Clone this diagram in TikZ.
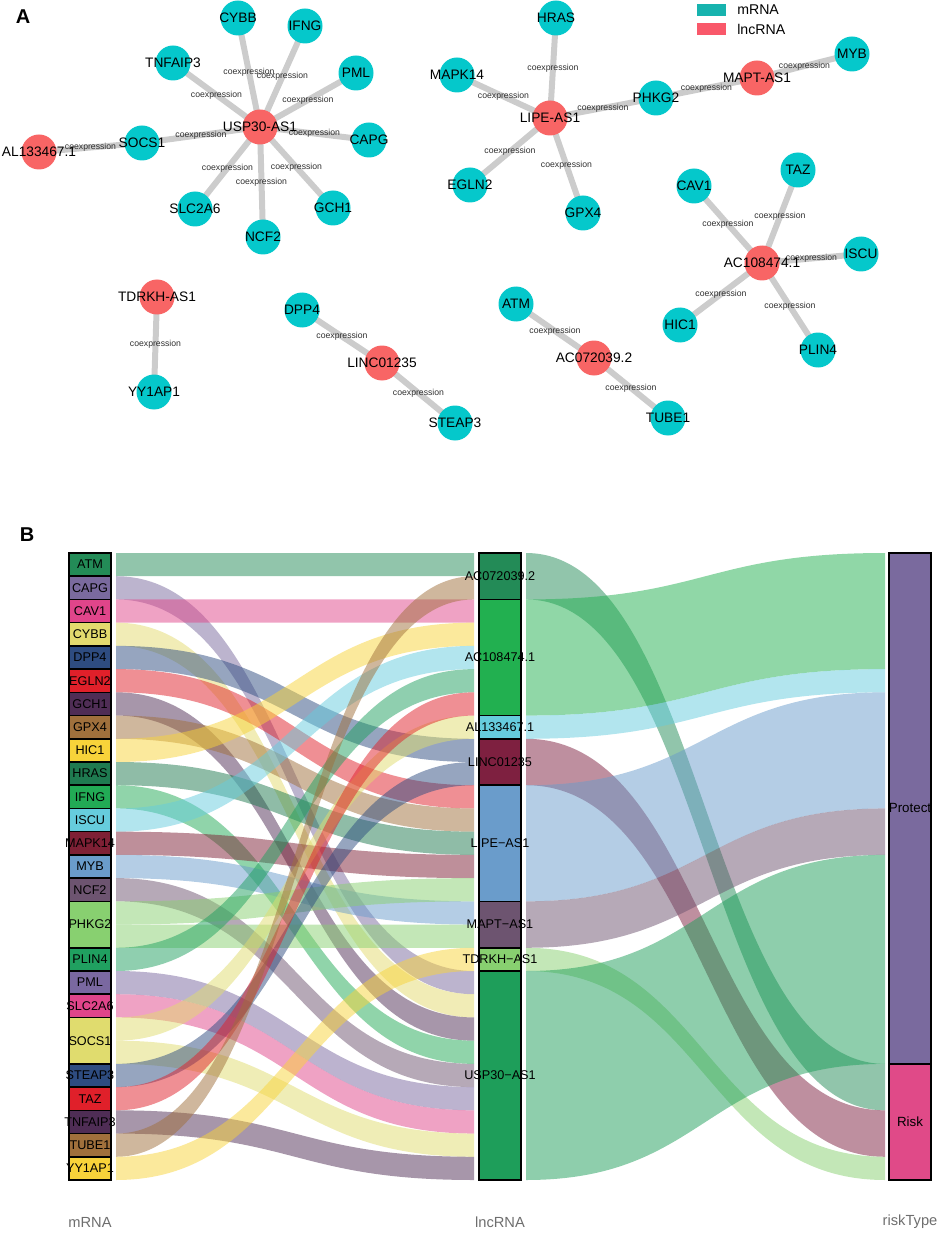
\documentclass[tikz,border=0pt]{standalone}
\usepackage{fontspec}
\setmainfont{Liberation Sans}
\usetikzlibrary{backgrounds}
\definecolor{mcol}{HTML}{05C8CB}
\definecolor{lcol}{HTML}{F86565}
\definecolor{legm}{HTML}{17B3AE}
\definecolor{legl}{HTML}{F9586A}
\definecolor{edgegray}{HTML}{CCCCCC}
\definecolor{labgray}{HTML}{303030}
\definecolor{axgray}{HTML}{6E6E6E}
% mRNA colours
\definecolor{cATM}{HTML}{238B57}
\definecolor{cCAPG}{HTML}{7A6A9E}
\definecolor{cCAV1}{HTML}{E0458A}
\definecolor{cCYBB}{HTML}{E3DA6E}
\definecolor{cDPP4}{HTML}{2E4C80}
\definecolor{cEGLN2}{HTML}{E0202A}
\definecolor{cGCH1}{HTML}{4F2D55}
\definecolor{cGPX4}{HTML}{A0703C}
\definecolor{cHIC1}{HTML}{F8D33A}
\definecolor{cHRAS}{HTML}{1F7A50}
\definecolor{cIFNG}{HTML}{22AA55}
\definecolor{cISCU}{HTML}{66CCDD}
\definecolor{cMAPK14}{HTML}{7E2035}
\definecolor{cMYB}{HTML}{6A9CCB}
\definecolor{cNCF2}{HTML}{6D5470}
\definecolor{cPHKG2}{HTML}{88D070}
\definecolor{cPLIN4}{HTML}{20A060}
\definecolor{cPML}{HTML}{7A68A0}
\definecolor{cSLC2A6}{HTML}{E0458A}
\definecolor{cSOCS1}{HTML}{E0DC6E}
\definecolor{cSTEAP3}{HTML}{2E4C80}
\definecolor{cTAZ}{HTML}{E0202A}
\definecolor{cTNFAIP3}{HTML}{4F2D55}
\definecolor{cTUBE1}{HTML}{A0703C}
\definecolor{cYY1AP1}{HTML}{F8D33A}
% lncRNA colours
\definecolor{cAC07}{HTML}{238B57}
\definecolor{cAC10}{HTML}{22B050}
\definecolor{cAL13}{HTML}{66CCDD}
\definecolor{cLINC}{HTML}{7E2040}
\definecolor{cLIPE}{HTML}{6A9CCB}
\definecolor{cMAPT}{HTML}{6D5470}
\definecolor{cTDRKH}{HTML}{88D070}
\definecolor{cUSP}{HTML}{1E9E5A}
\definecolor{cProt}{HTML}{7A6A9E}
\definecolor{cRisk}{HTML}{E04A88}
\begin{document}
\begin{tikzpicture}[x=0.75pt,y=-0.75pt,
  cxedge/.style={draw=edgegray, line width=4.5pt},
  elab/.style={font=\fontsize{6.5}{7}\selectfont, text=labgray, inner sep=0pt},
  mnode/.style={circle, fill=mcol, minimum size=26.25pt, inner sep=0pt},
  lnode/.style={circle, fill=lcol, minimum size=26.25pt, inner sep=0pt},
  nlab/.style={font=\fontsize{10.3}{12}\selectfont, inner sep=0pt},
  stratbox/.style={draw=black, line width=1.2pt},
  blab/.style={font=\fontsize{9.5}{11}\selectfont, inner sep=0pt},
  axlab/.style={font=\fontsize{11}{13}\selectfont, text=axgray, inner sep=0pt},
  panel/.style={font=\fontsize{15}{17}\selectfont\bfseries, inner sep=0pt}]
\useasboundingbox (0,0) rectangle (941,1237);

% ---------------- Panel A ----------------
\node[panel] (pA) at (23,17) {A};
\coordinate (USP) at (260,127);
\coordinate (CYBB) at (238,18);
\coordinate (IFNG) at (305,26);
\coordinate (TNFAIP3) at (173,63);
\coordinate (PML) at (356,73);
\coordinate (CAPG) at (369,140);
\coordinate (SOCS1) at (142,143);
\coordinate (AL13) at (39,152);
\coordinate (SLC2A6) at (195,209);
\coordinate (NCF2) at (263,237);
\coordinate (GCH1) at (333,208);
\coordinate (LIPE) at (550,118);
\coordinate (HRAS) at (556,18);
\coordinate (MAPK14) at (457,75);
\coordinate (EGLN2) at (470,185);
\coordinate (GPX4) at (583,213);
\coordinate (PHKG2) at (656,98);
\coordinate (MAPT) at (757,78);
\coordinate (MYB) at (852,54);
\coordinate (AC10) at (762,263);
\coordinate (CAV1) at (694,186);
\coordinate (TAZ) at (798,170);
\coordinate (ISCU) at (861,254);
\coordinate (HIC1) at (680,325);
\coordinate (PLIN4) at (818,350);
\coordinate (TDRKH) at (157,297);
\coordinate (YY1AP1) at (154,392);
\coordinate (DPP4) at (302,310);
\coordinate (LINC) at (382,363);
\coordinate (STEAP3) at (455,423);
\coordinate (ATM) at (516,304);
\coordinate (AC07) at (594,358);
\coordinate (TUBE1) at (668,418);

\foreach \a/\b in {USP/CYBB, USP/IFNG, USP/TNFAIP3, USP/PML, USP/CAPG, USP/SOCS1, SOCS1/AL13, USP/SLC2A6, USP/NCF2, USP/GCH1,
  LIPE/HRAS, LIPE/MAPK14, LIPE/EGLN2, LIPE/GPX4, LIPE/PHKG2, PHKG2/MAPT, MAPT/MYB,
  AC10/CAV1, AC10/TAZ, AC10/ISCU, AC10/HIC1, AC10/PLIN4, TDRKH/YY1AP1, DPP4/LINC, LINC/STEAP3, ATM/AC07, AC07/TUBE1}
  \draw[cxedge] (\a) -- (\b) node[midway, elab] {coexpression};

\foreach \k/\t in {CYBB/CYBB, IFNG/IFNG, TNFAIP3/TNFAIP3, PML/PML, CAPG/CAPG, SOCS1/SOCS1, SLC2A6/SLC2A6, NCF2/NCF2, GCH1/GCH1,
  HRAS/HRAS, MAPK14/MAPK14, EGLN2/EGLN2, GPX4/GPX4, PHKG2/PHKG2, MYB/MYB, CAV1/CAV1, TAZ/TAZ, ISCU/ISCU, HIC1/HIC1, PLIN4/PLIN4,
  YY1AP1/YY1AP1, DPP4/DPP4, STEAP3/STEAP3, ATM/ATM, TUBE1/TUBE1}
  \node[mnode] (n\k) at (\k) {};
\foreach \k/\t in {USP/USP30-AS1, AL13/AL133467.1, LIPE/LIPE-AS1, MAPT/MAPT-AS1, AC10/AC108474.1, TDRKH/TDRKH-AS1, LINC/LINC01235, AC07/AC072039.2}
  \node[lnode] (n\k) at (\k) {};
\foreach \k/\t in {CYBB/CYBB, IFNG/IFNG, TNFAIP3/TNFAIP3, PML/PML, CAPG/CAPG, SOCS1/SOCS1, SLC2A6/SLC2A6, NCF2/NCF2, GCH1/GCH1,
  HRAS/HRAS, MAPK14/MAPK14, EGLN2/EGLN2, GPX4/GPX4, PHKG2/PHKG2, MYB/MYB, CAV1/CAV1, TAZ/TAZ, ISCU/ISCU, HIC1/HIC1, PLIN4/PLIN4,
  YY1AP1/YY1AP1, DPP4/DPP4, STEAP3/STEAP3, ATM/ATM, TUBE1/TUBE1,
  USP/USP30-AS1, AL13/AL133467.1, LIPE/LIPE-AS1, MAPT/MAPT-AS1, AC10/AC108474.1, TDRKH/TDRKH-AS1, LINC/LINC01235, AC07/AC072039.2}
  \node[nlab] (t\k) at (\k) {\t};

% legend
\fill[legm] (697,4) rectangle (726,16);
\fill[legl] (697,23) rectangle (726,35);
\node[nlab, anchor=west, font=\fontsize{10.6}{12}\selectfont] (legmt) at (737,10) {mRNA};
\node[nlab, anchor=west, font=\fontsize{10.6}{12}\selectfont] (leglt) at (737,29) {lncRNA};

% ---------------- Panel B ----------------
\node[panel] (pB) at (27,535) {B};
\def\U{23.222}
% left flows
\foreach \l/\m/\c in {0/0/cATM, 1/18/cCAPG, 2/2/cCAV1, 3/19/cCYBB, 4/8/cDPP4, 5/10/cEGLN2, 6/20/cGCH1, 7/11/cGPX4, 8/3/cHIC1, 9/12/cHRAS, 10/21/cIFNG, 11/4/cISCU, 12/13/cMAPK14, 13/15/cMYB, 14/22/cNCF2, 15/14/cPHKG2, 16/16/cPHKG2, 17/5/cPLIN4, 18/23/cPML, 19/24/cSLC2A6, 20/7/cSOCS1, 21/25/cSOCS1, 22/9/cSTEAP3, 23/6/cTAZ, 24/26/cTNFAIP3, 25/1/cTUBE1, 26/17/cYY1AP1}
  \fill[\c, fill opacity=0.5] (116,{553+\l*\U}) .. controls (295,{553+\l*\U}) and (295,{553+\m*\U}) .. (474,{553+\m*\U})
     -- (474,{553+(\m+1)*\U}) .. controls (295,{553+(\m+1)*\U}) and (295,{553+(\l+1)*\U}) .. (116,{553+(\l+1)*\U}) -- cycle;
% right flows
\foreach \m/\r/\h/\c in {0/22/2/cAC07, 2/0/5/cAC10, 7/5/1/cAL13, 8/24/2/cLINC, 10/6/5/cLIPE, 15/11/2/cMAPT, 17/26/1/cTDRKH, 18/13/9/cUSP}
  \fill[\c, fill opacity=0.5] (526,{553+\m*\U}) .. controls (705.5,{553+\m*\U}) and (705.5,{553+\r*\U}) .. (885,{553+\r*\U})
     -- (885,{553+(\r+\h)*\U}) .. controls (705.5,{553+(\r+\h)*\U}) and (705.5,{553+(\m+\h)*\U}) .. (526,{553+(\m+\h)*\U}) -- cycle;

% left strata
\foreach \nm/\s/\h/\c in {ATM/0/1/cATM, CAPG/1/1/cCAPG, CAV1/2/1/cCAV1, CYBB/3/1/cCYBB, DPP4/4/1/cDPP4, EGLN2/5/1/cEGLN2, GCH1/6/1/cGCH1, GPX4/7/1/cGPX4, HIC1/8/1/cHIC1, HRAS/9/1/cHRAS, IFNG/10/1/cIFNG, ISCU/11/1/cISCU, MAPK14/12/1/cMAPK14, MYB/13/1/cMYB, NCF2/14/1/cNCF2, PHKG2/15/2/cPHKG2, PLIN4/17/1/cPLIN4, PML/18/1/cPML, SLC2A6/19/1/cSLC2A6, SOCS1/20/2/cSOCS1, STEAP3/22/1/cSTEAP3, TAZ/23/1/cTAZ, TNFAIP3/24/1/cTNFAIP3, TUBE1/25/1/cTUBE1, YY1AP1/26/1/cYY1AP1}
{
  \draw[stratbox, fill=\c] (69,{553+\s*\U}) rectangle (111,{553+(\s+\h)*\U});
  \node[blab] (bl\nm) at (90,{553+(\s+\h/2)*\U}) {\nm};
}
% middle strata
\foreach \k/\t/\s/\h/\c in {AC07/AC072039.2/0/2/cAC07, AC10/AC108474.1/2/5/cAC10, AL13/AL133467.1/7/1/cAL13, LINC/LINC01235/8/2/cLINC, LIPE/LIPE−AS1/10/5/cLIPE, MAPT/MAPT−AS1/15/2/cMAPT, TDRKH/TDRKH−AS1/17/1/cTDRKH, USP/USP30−AS1/18/9/cUSP}
{
  \draw[stratbox, fill=\c] (479,{553+\s*\U}) rectangle (521,{553+(\s+\h)*\U});
  \node[blab] (bm\k) at (500,{553+(\s+\h/2)*\U}) {\t};
}
% right strata
\draw[stratbox, fill=cProt] (889,553) rectangle (931,{553+22*\U});
\draw[stratbox, fill=cRisk] (889,{553+22*\U}) rectangle (931,{553+27*\U});
\node[blab, font=\fontsize{10}{12}\selectfont] (bProt) at (910,{553+11*\U}) {Protect};
\node[blab, font=\fontsize{10}{12}\selectfont] (bRisk) at (910,{553+24.5*\U}) {Risk};

% axis labels
\node[axlab] (axm) at (90,1222) {mRNA};
\node[axlab] (axl) at (500,1222) {lncRNA};
\node[axlab] (axr) at (910,1222) {riskType};
\end{tikzpicture}
\end{document}
